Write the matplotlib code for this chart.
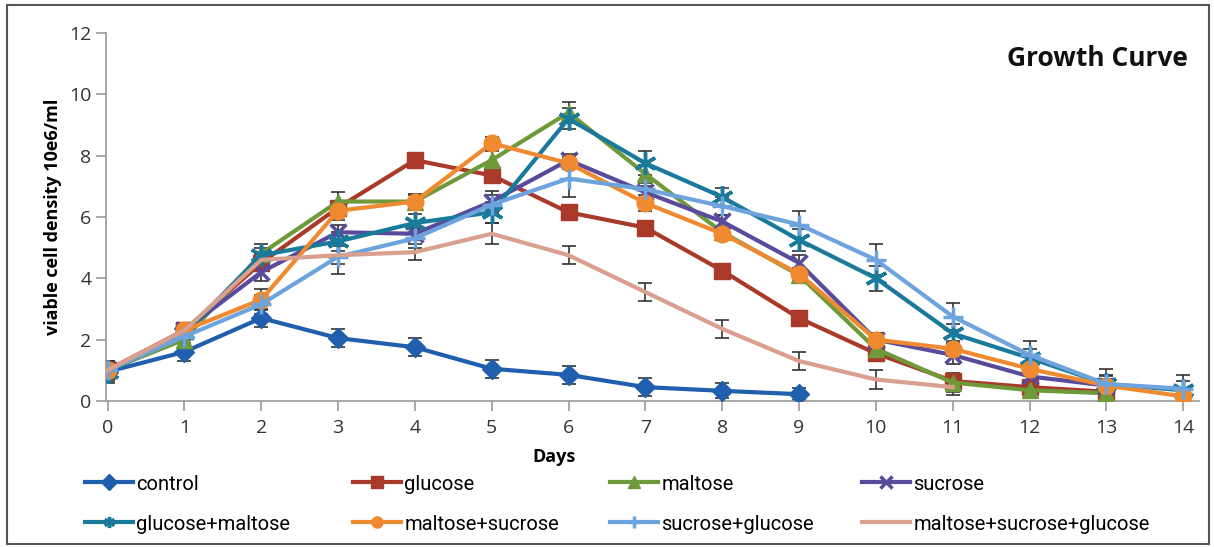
import numpy as np
import matplotlib
matplotlib.use("Agg")
import matplotlib.pyplot as plt
from matplotlib.patches import Rectangle
from matplotlib import font_manager

days = list(range(15))

control = [0.95, 1.6, 2.7, 2.05, 1.75, 1.05, 0.85, 0.45, 0.33, 0.22]
glucose = [1.0, 2.3, 4.5, 6.3, 7.85, 7.35, 6.15, 5.65, 4.25, 2.7, 1.55, 0.65, 0.45, 0.3]
maltose = [1.0, 2.0, 4.8, 6.5, 6.5, 7.85, 9.4, 7.4, 5.5, 4.1, 1.7, 0.6, 0.35, 0.25]
sucrose = [1.0, 2.3, 4.2, 5.5, 5.45, 6.5, 7.85, 6.8, 5.85, 4.5, 2.0, 1.5, 0.8, 0.5]
gluc_malt = [0.95, 2.2, 4.75, 5.2, 5.8, 6.15, 9.2, 7.75, 6.65, 5.25, 4.0, 2.2, 1.4, 0.55, 0.35]
malt_sucr = [1.0, 2.3, 3.3, 6.2, 6.5, 8.4, 7.75, 6.45, 5.45, 4.15, 2.0, 1.7, 1.05, 0.5, 0.15]
sucr_gluc = [1.0, 2.1, 3.15, 4.7, 5.3, 6.4, 7.25, 6.9, 6.35, 5.75, 4.6, 2.75, 1.5, 0.55, 0.4]
malt_sucr_gluc = [1.0, 2.3, 4.6, 4.75, 4.85, 5.45, 4.75, 3.55, 2.35, 1.3, 0.7, 0.45]

control_err = [0.35, 0.3, 0.3, 0.3, 0.3, 0.3, 0.3, 0.3, 0.25, 0.2]
glucose_err = [0.3, 0.2, 0.2, 0.2, 0.2, 0.2, 0.2, 0.2, 0.2, 0.2, 0.2, 0.2, 0.15, 0.1]
maltose_err = [0.3, 0.25, 0.3, 0.3, 0.2, 0.3, 0.35, 0.3, 0.2, 0.2, 0.2, 0.3, 0.15, 0.1]
sucrose_err = [0.3, 0.2, 0.3, 0.25, 0.2, 0.35, 0.2, 0.2, 0.2, 0.25, 0.2, 0.3, 0.2, 0.2]
gluc_malt_err = [0.3, 0.2, 0.25, 0.3, 0.3, 0.35, 0.35, 0.4, 0.3, 0.35, 0.4, 0.3, 0.3, 0.3, 0.3]
malt_sucr_err = [0.3, 0.2, 0.35, 0.3, 0.25, 0.2, 0.2, 0.25, 0.2, 0.2, 0.2, 0.25, 0.2, 0.3, 0.2]
sucr_gluc_err = [0.3, 0.2, 0.3, 0.55, 0.3, 0.3, 0.6, 0.3, 0.3, 0.45, 0.5, 0.45, 0.45, 0.5, 0.45]
msg_err = [0.3, 0.2, 0.2, 0.3, 0.25, 0.35, 0.3, 0.3, 0.3, 0.3, 0.3, 0.25]

names = ["control", "glucose", "maltose", "sucrose",
         "glucose+maltose", "maltose+sucrose", "sucrose+glucose",
         "maltose+sucrose+glucose"]
series = [control, glucose, maltose, sucrose, gluc_malt, malt_sucr, sucr_gluc, malt_sucr_gluc]
errors = [control_err, glucose_err, maltose_err, sucrose_err, gluc_malt_err,
          malt_sucr_err, sucr_gluc_err, msg_err]
colors = ["#1f5fae", "#a93a2a", "#6f9a3a", "#5a4a9c", "#1a7a9c", "#f08a30",
          "#6ea4de", "#d9a08e"]
markers = ["D", "s", "^", "x", (6, 2, 0), "o", "+", None]
msizes = [10, 12, 11, 12, 16, 12, 14, 0]

plt.rcParams['font.family'] = ['Open Sans', 'DejaVu Sans']
installed = {f.name for f in font_manager.fontManager.ttflist}
leg_family = 'Liberation Sans Narrow' if 'Liberation Sans Narrow' in installed else 'Roboto'

fig = plt.figure(figsize=(12.14, 5.47), dpi=100)
ax = fig.add_axes([0.0873, 0.267, 0.9, 0.673])

handles = [None] * 8
for i in [7, 6, 5, 4, 3, 2, 1, 0]:
    y = series[i]
    x = days[:len(y)]
    ax.errorbar(x, y, yerr=errors[i], fmt='none', ecolor='#333333',
                elinewidth=1.2, capsize=5, capthick=1.2, zorder=2 + i * 0.01)
    mk = markers[i]
    ln, = ax.plot(x, y, color=colors[i], lw=3, marker=mk, ms=msizes[i],
                  mew=2.5 if mk in ("x", "+", (6, 2, 0)) else 1,
                  mec=colors[i], mfc=colors[i], label=names[i], zorder=3 + i * 0.01)
    handles[i] = ln

ax.set_xlim(-0.02, 14.2)
ax.set_ylim(0, 12)
ax.set_xticks(range(15))
ax.set_yticks(range(0, 13, 2))
for s in ["top", "right"]:
    ax.spines[s].set_visible(False)
for s in ["left", "bottom"]:
    ax.spines[s].set_color("#9a9a9a")
    ax.spines[s].set_linewidth(1.2)
ax.tick_params(axis="both", colors="#9a9a9a", length=7, width=1.2, labelsize=14,
               labelcolor="#333333")
ax.tick_params(axis="x", pad=6)

ax.set_ylabel("viable cell density 10e6/ml", fontsize=13, fontweight="bold", labelpad=5)
ax.set_xlabel("Days", fontsize=13, fontweight="bold", labelpad=8, x=0.41)
ax.text(0.99, 0.93, "Growth Curve", transform=ax.transAxes, ha="right", va="center",
        fontsize=19, fontweight="bold", color="#111111")

# legend: one entry per slot, 4 columns x 2 rows
col_x = [87, 355, 612, 864]
row_y = [484, 524]
W, H = 1214, 547
for i, h in enumerate(handles):
    cx = col_x[i % 4]
    cy = row_y[i // 4]
    lg = fig.legend([h], [names[i]], loc="center left",
                    bbox_to_anchor=((cx - 10) / W, 1 - cy / H), frameon=False,
                    handlelength=2.4, handletextpad=0.15, borderaxespad=0,
                    prop={'family': [leg_family, 'DejaVu Sans'], 'size': 14.5})
    for lh in lg.legend_handles:
        lh.set_markersize(8)

fig.patches.append(Rectangle((0.006, 0.006), 0.99, 0.985, transform=fig.transFigure,
                             fill=False, ec="#555555", lw=1.5))

fig.savefig("out.png", dpi=100)
